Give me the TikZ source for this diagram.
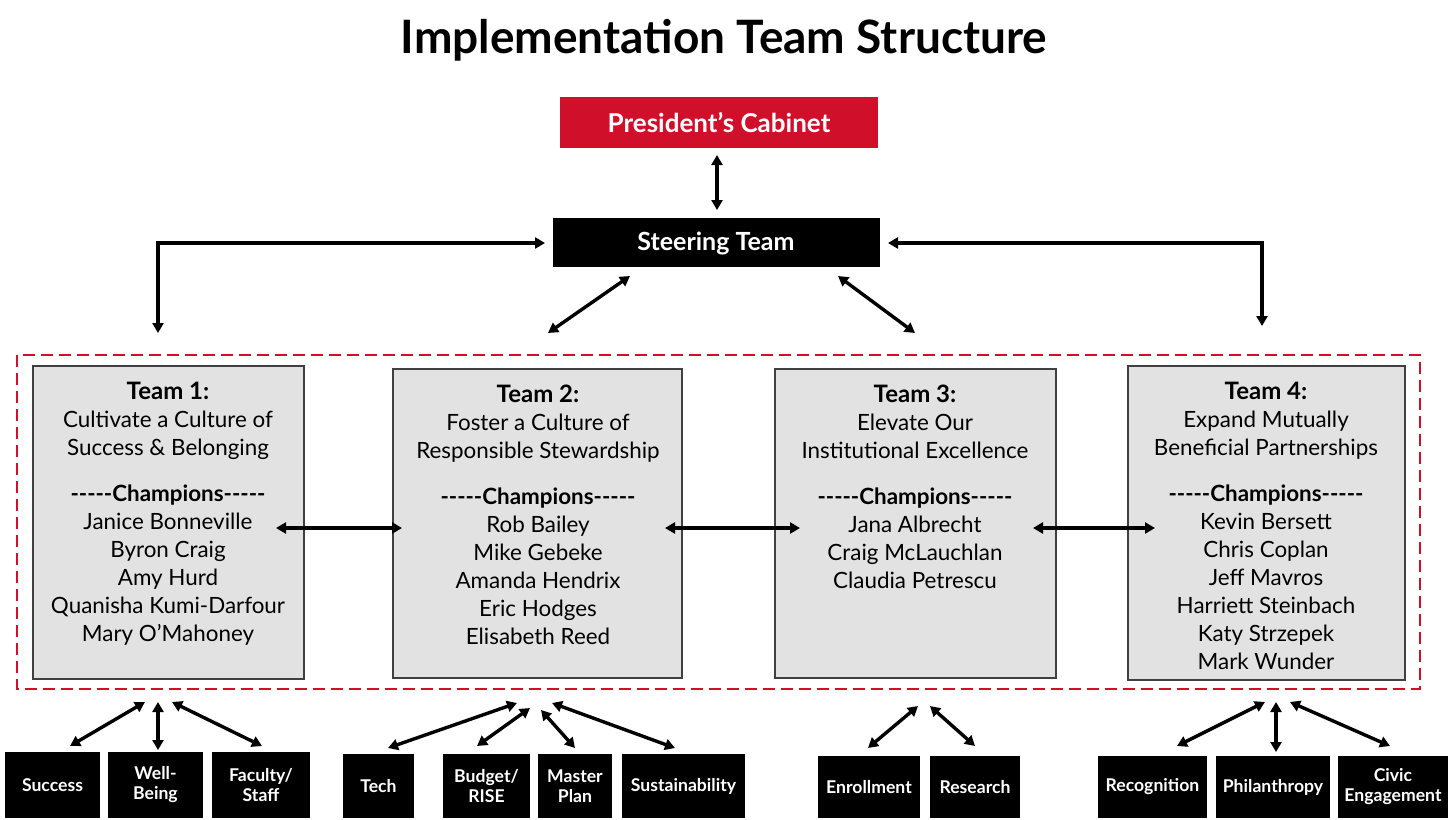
\documentclass[tikz,border=0pt]{standalone}
\usepackage{fontspec}
\setmainfont{Lato}
\usetikzlibrary{arrows.meta}
\definecolor{cred}{HTML}{D0102A}
\definecolor{tgray}{HTML}{E2E2E2}
\newcommand{\champ}{\textbf{-{}-{}-{}-{}-Champions-{}-{}-{}-{}-}}
\tikzset{
 arr/.style={line width=1.7pt,{Triangle[length=5pt,width=5.5pt]}-{Triangle[length=5pt,width=5.5pt]}},
 team/.style={draw=black!75,line width=0.8pt,fill=tgray},
 sub/.style={fill=black,text=white,font=\bfseries\fontsize{8.8}{10}\selectfont,align=center,inner sep=0pt},
 ttext/.style={align=center,font=\fontsize{11.2}{14}\selectfont,anchor=north}
}
\begin{document}
\begin{tikzpicture}[x=0.5pt,y=-0.5pt]
\useasboundingbox (0,0) rectangle (1448,820);
\node[font=\bfseries\fontsize{23}{26}\selectfont] (title) at (724,40) {Implementation Team Structure};
\fill[cred] (560,97) rectangle (878,148);
\node[text=white,font=\bfseries\fontsize{13}{14}\selectfont] (pc) at (719,123) {President’s Cabinet};
\fill[black] (553,218) rectangle (880,267);
\node[text=white,font=\bfseries\fontsize{12.5}{14}\selectfont] (st) at (716,243) {Steering Team};
\coordinate (pcb) at (717,155); \coordinate (stt) at (717,210);
\draw[arr] (pcb) -- (stt);
\coordinate (sl) at (545,243); \coordinate (t1a) at (158,333);
\draw[arr] (sl) -- (158,243) -- (t1a);
\coordinate (sr) at (888,243); \coordinate (t4a) at (1262,326);
\draw[arr] (sr) -- (1262,243) -- (t4a);
\coordinate (sd1) at (630,276); \coordinate (t2a) at (548,333);
\draw[arr] (sd1) -- (t2a);
\coordinate (sd2) at (838,276); \coordinate (t3a) at (915,333);
\draw[arr] (sd2) -- (t3a);
\draw[cred,line width=1pt,dash pattern=on 6pt off 3pt] (17,355) rectangle (1420,689);
\draw[team] (33,366) rectangle (304,679);
\draw[team] (393,369) rectangle (682,678);
\draw[team] (775,369) rectangle (1056,678);
\draw[team] (1128,366) rectangle (1405,680);
\node[ttext] (tx1) at (168,375) {{\bfseries\fontsize{12}{14}\selectfont Team 1:}\\Cultivate a Culture of\\Success \& Belonging\\[9pt]\champ\\Janice Bonneville\\Byron Craig\\Amy Hurd\\Quanisha Kumi-Darfour\\Mary O'Mahoney};
\node[ttext] (tx2) at (538,378) {{\bfseries\fontsize{12}{14}\selectfont Team 2:}\\Foster a Culture of\\Responsible Stewardship\\[9pt]\champ\\Rob Bailey\\Mike Gebeke\\Amanda Hendrix\\Eric Hodges\\Elisabeth Reed};
\node[ttext] (tx3) at (915,378) {{\bfseries\fontsize{12}{14}\selectfont Team 3:}\\Elevate Our\\Institutional Excellence\\[9pt]\champ\\Jana Albrecht\\Craig McLauchlan\\Claudia Petrescu};
\node[ttext] (tx4) at (1266,375) {{\bfseries\fontsize{12}{14}\selectfont Team 4:}\\Expand Mutually\\Beneficial Partnerships\\[9pt]\champ\\Kevin Bersett\\Chris Coplan\\Jeff Mavros\\Harriett Steinbach\\Katy Strzepek\\Mark Wunder};
\coordinate (h1a) at (276,528); \coordinate (h1b) at (402,528);
\coordinate (h2a) at (665,528); \coordinate (h2b) at (800,528);
\coordinate (h3a) at (1033,528); \coordinate (h3b) at (1155,528);
\draw[arr] (h1a) -- (h1b); \draw[arr] (h2a) -- (h2b); \draw[arr] (h3a) -- (h3b);
\newcommand{\subbox}[6]{\fill[black] (#2,#3) rectangle (#4,#5); \node[sub] (#1) at ({(#2+#4)/2},{(#3+#5)/2}) {#6};}
\subbox{b1}{5}{752}{100}{818}{Success}
\subbox{b2}{108}{752}{203}{818}{Well-\\Being}
\subbox{b3}{212}{752}{310}{818}{Faculty/\\Staff}
\subbox{b4}{343}{754}{414}{818}{Tech}
\subbox{b5}{443}{754}{530}{818}{Budget/\\RISE}
\subbox{b6}{538}{754}{612}{818}{Master\\Plan}
\subbox{b7}{622}{754}{745}{818}{Sustainability}
\subbox{b8}{818}{756}{920}{818}{Enrollment}
\subbox{b9}{930}{756}{1020}{818}{Research}
\subbox{b10}{1098}{756}{1207}{818}{Recognition}
\subbox{b11}{1216}{756}{1330}{818}{Philanthropy}
\subbox{b12}{1338}{756}{1448}{818}{Civic\\Engagement}
\draw[arr] (145,702) -- (70,746);
\draw[arr] (158,702) -- (158,750);
\draw[arr] (172,702) -- (262,746);
\draw[arr] (517,703) -- (388,748);
\draw[arr] (530,708) -- (477,746);
\draw[arr] (541,710) -- (575,748);
\draw[arr] (552,703) -- (675,748);
\draw[arr] (918,706) -- (868,748);
\draw[arr] (930,706) -- (975,746);
\draw[arr] (1265,702) -- (1177,746);
\draw[arr] (1276,702) -- (1276,752);
\draw[arr] (1290,702) -- (1390,746);
\end{tikzpicture}
\end{document}
